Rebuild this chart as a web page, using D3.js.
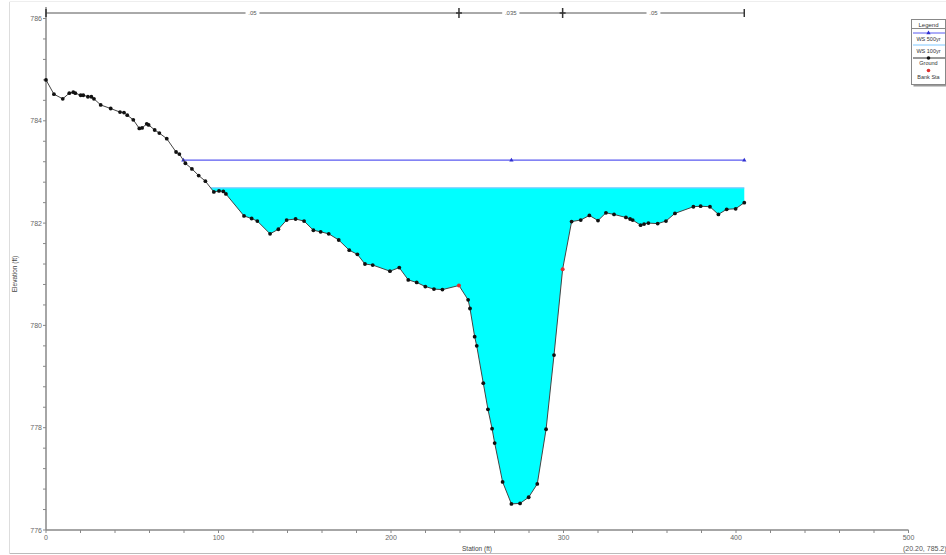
<!DOCTYPE html>
<html><head><meta charset="utf-8">
<script src="https://cdn.jsdelivr.net/npm/d3@7"></script>
<style>body{margin:0;background:#fff;overflow:hidden} svg{display:block;font-family:"Liberation Sans",Arial,sans-serif;}</style>
</head><body><svg id="c" width="946" height="555"></svg>
<script>
// ---------- data ----------
const groundSta = [0,4.6,9.7,13.5,15.8,17,20.1,21.6,24.3,26.3,27.8,31.7,37.5,42.9,45.2,47.1,50.6,54.1,55.7,58.4,59.5,63,65.7,70,75.4,77.3,80.8,84.6,88.5,92.4,97.3,100.3,102.8,104.3,114.8,119.2,122.5,129.9,134.7,139.5,144.7,149.6,155,159.2,163.9,169.7,175.8,180.5,184.9,189.4,199.4,204.8,210,214.9,219.9,224.9,229.8,239.4,244.7,245.8,248.5,249.7,253.5,256.2,258.6,260.1,264.7,269.8,274.8,279.8,284.8,289.9,294.5,299.5,304.7,310,315,320,324.6,329.3,336.2,338.6,340.1,344.7,346.7,349.2,354.6,359.4,364.6,375.3,379.5,384.9,389.8,394.6,399.8,404.8];
const groundElev = [784.80,784.52,784.43,784.54,784.56,784.54,784.50,784.50,784.47,784.47,784.43,784.31,784.24,784.17,784.16,784.11,784.02,783.85,783.86,783.94,783.92,783.82,783.76,783.65,783.39,783.35,783.17,783.06,782.93,782.82,782.61,782.63,782.62,782.57,782.14,782.09,782.04,781.79,781.88,782.06,782.08,782.04,781.86,781.83,781.79,781.67,781.47,781.39,781.20,781.18,781.06,781.13,780.89,780.84,780.76,780.71,780.70,780.78,780.50,780.33,779.78,779.60,778.87,778.36,777.98,777.70,776.94,776.51,776.52,776.64,776.90,777.97,779.42,781.10,782.03,782.06,782.15,782.05,782.20,782.17,782.11,782.08,782.06,781.96,781.98,782.00,781.99,782.04,782.19,782.32,782.33,782.32,782.17,782.27,782.28,782.40];
const bankSta = [239.4, 299.5];
const ws500Elev = 783.23;
const ws100Elev = 782.69;
const ws500MarkSta = [269.8];
const nBreakSta = [0, 239.4, 299.5, 404.8];
const nLabels = [".05", ".035", ".05"];
const xTickValues = [0,100,200,300,400,500];
const yTickValues = [776,778,780,782,784,786];
const legendLabels = ["WS 500yr","WS 100yr","Ground","Bank Sta"];

// ---------- layout ----------
const svg = d3.select("#c");
const x = d3.scaleLinear().domain([0,500]).range([46,908.5]);
const y = d3.scaleLinear().domain([776,786]).range([530,18.5]);
const ground = groundSta.map((s,i)=>({s, e:groundElev[i]}));
const gray = "#666";

// frame lines
svg.append("line").attr("x1",9.5).attr("x2",9.5).attr("y1",2).attr("y2",553).attr("stroke","#ddd");
svg.append("line").attr("x1",9.5).attr("x2",946).attr("y1",553.5).attr("y2",553.5).attr("stroke","#bbb");
svg.append("line").attr("x1",9.5).attr("x2",946).attr("y1",1.5).attr("y2",1.5).attr("stroke","#eee");

function leftCross(level){
  for(let i=0;i<ground.length-1;i++){
    const a=ground[i], b=ground[i+1];
    if(a.e>=level && b.e<level){ return a.s + (a.e-level)/(a.e-b.e)*(b.s-a.s); }
  }
  return ground[0].s;
}
const endSta = groundSta[groundSta.length-1];

// water fill (WS 100yr)
const xL100 = leftCross(ws100Elev);
const poly = [{s:xL100,e:ws100Elev}].concat(ground.filter(d=>d.s>xL100)).concat([{s:endSta,e:ws100Elev}]);
svg.append("path").attr("d", d3.line().x(d=>x(d.s)).y(d=>y(d.e))(poly)+"Z")
  .attr("fill","#00ffff").attr("stroke","none");
svg.append("line").attr("x1",x(xL100)).attr("x2",x(endSta)).attr("y1",y(ws100Elev)).attr("y2",y(ws100Elev))
  .attr("stroke","#7fc8ff").attr("stroke-width",1.2);

// WS 500yr
const xL500 = leftCross(ws500Elev);
svg.append("line").attr("x1",x(xL500)).attr("x2",x(endSta)).attr("y1",y(ws500Elev)).attr("y2",y(ws500Elev))
  .attr("stroke","#5a5af0").attr("stroke-width",1.2);
svg.selectAll(".wsm").data([xL500].concat(ws500MarkSta).concat([endSta])).enter().append("path")
  .attr("d", d3.symbol().type(d3.symbolTriangle).size(8))
  .attr("transform", d=>`translate(${x(d)},${y(ws500Elev)})`).attr("fill","#3030d0");

// axes
const xa = svg.append("g").attr("transform",`translate(0,${y(776)})`);
xa.append("line").attr("x1",x(0)).attr("x2",x(500)).attr("stroke","#888").attr("stroke-width",1.5);
xa.selectAll(".mt").data(d3.range(0,501,20)).enter().append("line")
  .attr("x1",d=>x(d)).attr("x2",d=>x(d)).attr("y1",0).attr("y2",3).attr("stroke","#888");
xa.selectAll(".xl").data(xTickValues).enter().append("text")
  .attr("x",d=>x(d)).attr("y",10).attr("text-anchor","middle").attr("font-size",7).attr("fill",gray).text(d=>d);

const ya = svg.append("g");
ya.append("line").attr("x1",x(0)).attr("x2",x(0)).attr("y1",y(776)).attr("y2",7).attr("stroke","#888").attr("stroke-width",1.5);
ya.selectAll(".mt").data(d3.range(0,26).map(i=>776+i*0.4)).enter().append("line")
  .attr("x1",x(0)-3).attr("x2",x(0)).attr("y1",d=>y(d)).attr("y2",d=>y(d)).attr("stroke","#888");
ya.selectAll(".yl").data(yTickValues).enter().append("text")
  .attr("x",x(0)-4).attr("y",d=>y(d)+2.5).attr("text-anchor","end").attr("font-size",7).attr("fill",gray).text(d=>d);

svg.append("text").attr("transform","translate(17,274) rotate(-90)").attr("text-anchor","middle")
  .attr("font-size",6.5).attr("fill","#444").text("Elevation (ft)");
svg.append("text").attr("x",477).attr("y",551).attr("text-anchor","middle")
  .attr("font-size",6.5).attr("fill","#444").text("Station (ft)");
svg.append("text").attr("x",903).attr("y",551).attr("font-size",7).attr("fill","#555").text("(20.20, 785.2)");

// ground line + points
svg.append("path").attr("d", d3.line().x(d=>x(d.s)).y(d=>y(d.e))(ground))
  .attr("fill","none").attr("stroke","#444").attr("stroke-width",1);
svg.selectAll(".gp").data(ground.filter(d=>!bankSta.includes(d.s))).enter().append("circle")
  .attr("cx",d=>x(d.s)).attr("cy",d=>y(d.e)).attr("r",1.9).attr("fill","#111");
svg.selectAll(".bp").data(ground.filter(d=>bankSta.includes(d.s))).enter().append("circle")
  .attr("cx",d=>x(d.s)).attr("cy",d=>y(d.e)).attr("r",2).attr("fill","#e03030");

// Manning's n bar
const ny = 13;
svg.append("line").attr("x1",x(nBreakSta[0])).attr("x2",x(nBreakSta[nBreakSta.length-1]))
  .attr("y1",ny).attr("y2",ny).attr("stroke","#555");
nBreakSta.forEach((s,i)=>{
  const inner = i>0 && i<nBreakSta.length-1;
  svg.append("line").attr("x1",x(s)).attr("x2",x(s)).attr("y1",ny-(inner?5:4)).attr("y2",ny+(inner?5:4))
    .attr("stroke","#333").attr("stroke-width",inner?1.5:1.5);
  if(inner) svg.append("line").attr("x1",x(s)-3).attr("x2",x(s)+3).attr("y1",ny).attr("y2",ny).attr("stroke","#333").attr("stroke-width",1.5);
});
nLabels.forEach((t,i)=>{
  const cx = (x(nBreakSta[i])+x(nBreakSta[i+1]))/2;
  const w = t.length*3.3+4;
  svg.append("rect").attr("x",cx-w/2).attr("y",ny-4).attr("width",w).attr("height",8).attr("fill","#fff");
  svg.append("text").attr("x",cx).attr("y",ny+2.2).attr("text-anchor","middle").attr("font-size",6).attr("fill","#555").text(t);
});

// legend
const lg = svg.append("g");
lg.append("rect").attr("x",913.5).attr("y",21.5).attr("width",34).attr("height",65).attr("fill","#999");
lg.append("rect").attr("x",911.5).attr("y",19.5).attr("width",34).attr("height",65).attr("fill","#fff").attr("stroke","#888");
lg.append("line").attr("x1",911.5).attr("x2",946).attr("y1",28.5).attr("y2",28.5).attr("stroke","#888");
lg.append("text").attr("x",928.5).attr("y",26.5).attr("text-anchor","middle").attr("font-size",6).attr("fill","#333").text("Legend");
const lcx = 928.5;
lg.append("line").attr("x1",913).attr("x2",945).attr("y1",33).attr("y2",33).attr("stroke","#5a5af0");
lg.append("path").attr("d",d3.symbol().type(d3.symbolTriangle).size(8)).attr("transform",`translate(${lcx},33)`).attr("fill","#3030d0");
lg.append("line").attr("x1",913).attr("x2",945).attr("y1",45).attr("y2",45).attr("stroke","#7fc8ff");
lg.append("line").attr("x1",913).attr("x2",945).attr("y1",58).attr("y2",58).attr("stroke","#333");
lg.append("circle").attr("cx",lcx).attr("cy",58).attr("r",1.8).attr("fill","#111");
lg.append("circle").attr("cx",lcx).attr("cy",70.5).attr("r",1.8).attr("fill","#e03030");
[40.5,53,65,78.5].forEach((yy,i)=>{
  lg.append("text").attr("x",lcx).attr("y",yy).attr("text-anchor","middle").attr("font-size",5.5).attr("fill","#333").text(legendLabels[i]);
});
</script></body></html>
